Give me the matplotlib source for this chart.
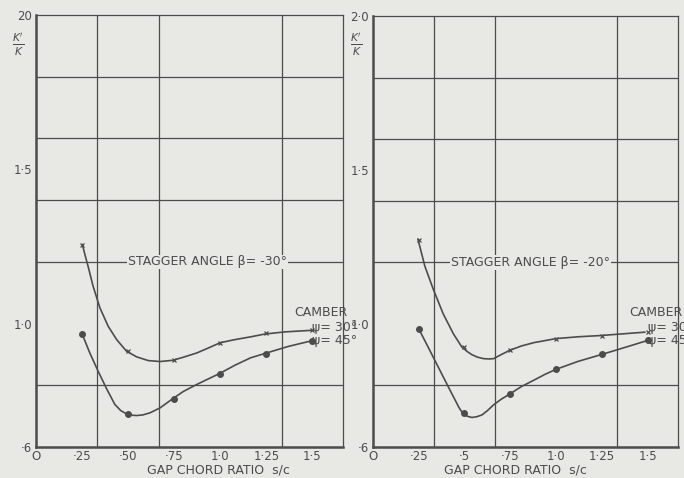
from matplotlib import pyplot as plt

# values
x_ticks = [0, 0.25, 0.5, 0.75, 1.0, 1.25, 1.5]
x_labels_left = ["O", "·25", "·50", "·75", "1·0", "1·25", "1·5"]
x_labels_right = ["O", "·25", "·5", "·75", "1·0", "1·25", "1·5"]
y_ticks = [0.6, 1.0, 1.5, 2.0]
y_labels_left = ["·6", "1·0", "1·5", "20"]
y_labels_right = ["·6", "1·0", "1·5", "2·0"]
x_grid = [1 / 3, 2 / 3, 1.0, 4 / 3]
y_grid = [0.8, 1.0, 1.2, 1.4, 1.6, 1.8]

# measured points (s/c, K'/K)
gap_ratio = [0.25, 0.5, 0.75, 1.0, 1.25, 1.5]
left_30_pts = [1.256, 0.910, 0.881, 0.938, 0.970, 0.978]
left_45_pts = [0.967, 0.708, 0.756, 0.838, 0.903, 0.945]
right_30_pts = [1.274, 0.925, 0.914, 0.952, 0.962, 0.973]
right_45_pts = [0.984, 0.710, 0.772, 0.852, 0.901, 0.946]

# faired curves
left_30_x = [0.252, 0.268, 0.283, 0.31, 0.347, 0.392, 0.438, 0.492, 0.547,
             0.61, 0.674, 0.743, 0.80, 0.874, 0.94, 1.0, 1.08, 1.165, 1.242,
             1.35, 1.493]
left_30_y = [1.256, 1.218, 1.185, 1.121, 1.051, 0.991, 0.948, 0.910, 0.892,
             0.880, 0.877, 0.881, 0.891, 0.905, 0.922, 0.938, 0.948, 0.957,
             0.966, 0.973, 0.978]
left_45_x = [0.25, 0.292, 0.337, 0.383, 0.428, 0.46, 0.489, 0.52, 0.547,
             0.58, 0.62, 0.674, 0.741, 0.80, 0.874, 0.94, 0.996, 1.08,
             1.165, 1.242, 1.37, 1.502]
left_45_y = [0.967, 0.905, 0.846, 0.789, 0.738, 0.718, 0.708, 0.703, 0.702,
             0.704, 0.711, 0.727, 0.756, 0.780, 0.803, 0.822, 0.838, 0.865,
             0.889, 0.903, 0.926, 0.945]
right_30_x = [0.246, 0.265, 0.283, 0.329, 0.384, 0.439, 0.485, 0.515, 0.54,
              0.57, 0.604, 0.635, 0.659, 0.70, 0.747, 0.81, 0.879, 0.999,
              1.12, 1.243, 1.485]
right_30_y = [1.274, 1.230, 1.188, 1.113, 1.032, 0.968, 0.925, 0.910, 0.900,
              0.892, 0.887, 0.886, 0.887, 0.900, 0.914, 0.928, 0.939, 0.952,
              0.958, 0.962, 0.973]
right_45_x = [0.25, 0.329, 0.411, 0.47, 0.49, 0.515, 0.54, 0.565, 0.595,
              0.625, 0.659, 0.70, 0.747, 0.81, 0.879, 0.94, 0.999, 1.12,
              1.252, 1.38, 1.5]
right_45_y = [0.984, 0.892, 0.796, 0.728, 0.710, 0.700, 0.696, 0.698, 0.704,
              0.718, 0.737, 0.755, 0.772, 0.796, 0.817, 0.836, 0.852, 0.878,
              0.901, 0.924, 0.946]

PAPER = "#e8e8e5"
INK = "#4c4c4c"
FONT = 8.5

plt.rcParams["font.family"] = ["DejaVu Sans"]

fig = plt.figure(figsize=(6.84, 4.78), dpi=100, facecolor=PAPER)
ax_l = fig.add_axes([36 / 684, 1 - 447 / 478, 307 / 684, 432 / 478])
ax_r = fig.add_axes([373 / 684, 1 - 447 / 478, 305 / 684, 431 / 478])


def setup(ax, xlabels, ylabels):
    ax.set_facecolor(PAPER)
    ax.set_xlim(0, 5 / 3)
    ax.set_ylim(0.6, 2.0)
    ax.set_xticks(x_ticks)
    ax.set_xticklabels(xlabels, fontsize=FONT, color=INK)
    ax.set_yticks(y_ticks)
    ax.set_yticklabels(ylabels, fontsize=FONT, color=INK)
    ax.set_xticks(x_grid, minor=True)
    ax.set_yticks(y_grid, minor=True)
    ax.tick_params(which="both", length=0, pad=3)
    ax.tick_params(axis="x", pad=2)
    ax.grid(which="minor", color=INK, linewidth=0.9)
    ax.grid(which="major", visible=False)
    for side in ["top", "right"]:
        ax.spines[side].set_color(INK)
        ax.spines[side].set_linewidth(0.9)
    for side in ["left", "bottom"]:
        ax.spines[side].set_color(INK)
        ax.spines[side].set_linewidth(1.8)


def draw_panel(ax, c30x, c30y, c45x, c45y, p30, p45, stagger, sx):
    ax.plot(c30x, c30y, color=INK, lw=1.2, solid_joinstyle="round")
    ax.plot(c45x, c45y, color=INK, lw=1.2, solid_joinstyle="round")
    ax.plot(gap_ratio, p30, ls="none", marker="x", ms=2.5, mew=0.9, color=INK)
    ax.plot(gap_ratio, p45, ls="none", marker="o", ms=4, color=INK)
    ax.text(sx, 1.2, f"STAGGER ANGLE β= -{stagger}°", fontsize=FONT + 0.5,
            color=INK, ha="center", va="center",
            bbox=dict(facecolor=PAPER, edgecolor="none", pad=0.5))
    ax.text(1.40, 1.036, "CAMBER", fontsize=FONT + 0.5, color=INK,
            va="center", clip_on=False)
    ax.text(1.50, 0.987, "ψ= 30°", fontsize=FONT + 0.5, color=INK,
            va="center", clip_on=False)
    ax.text(1.50, 0.945, "ψ= 45°", fontsize=FONT + 0.5, color=INK,
            va="center", clip_on=False)


setup(ax_l, x_labels_left, y_labels_left)
setup(ax_r, x_labels_right, y_labels_right)
draw_panel(ax_l, left_30_x, left_30_y, left_45_x, left_45_y,
           left_30_pts, left_45_pts, 30, 0.93)
draw_panel(ax_r, right_30_x, right_30_y, right_45_x, right_45_y,
           right_30_pts, right_45_pts, 20, 0.86)

# x-axis titles sit tight under the tick labels
fig.text(218 / 684, 1 - 470 / 478, "GAP CHORD RATIO  s/c", fontsize=FONT + 0.5,
         color=INK, ha="center", va="center")
fig.text(515 / 684, 1 - 470 / 478, "GAP CHORD RATIO  s/c", fontsize=FONT + 0.5,
         color=INK, ha="center", va="center")

fig.text(18 / 684, 1 - 45 / 478, r"$\frac{K'}{K}$", fontsize=11, color=INK,
         ha="center", va="center")
fig.text(356 / 684, 1 - 45 / 478, r"$\frac{K'}{K}$", fontsize=11, color=INK,
         ha="center", va="center")

fig.savefig("out.png", dpi=100, facecolor=PAPER)
